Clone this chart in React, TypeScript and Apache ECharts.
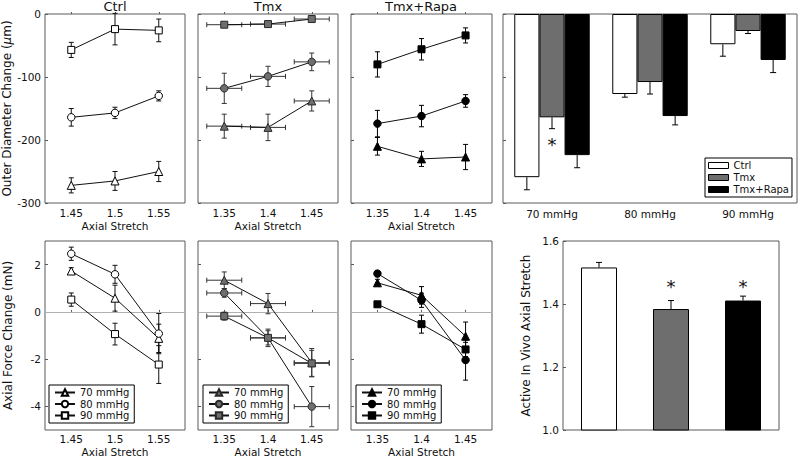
import React, { useEffect, useRef } from 'react';
import * as echarts from 'echarts';

const FONT = 'DejaVu Sans';

// x positions (axial stretch)
const ctrlStretch = [1.45, 1.5, 1.55];
const tmxStretch = [1.35, 1.4, 1.45];
const rapaStretch = [1.35, 1.4, 1.45];
const tmxStretchErr = [0.02, 0.02, 0.02];
const ctrlTicks = [1.45, 1.5, 1.55];
const treatTicks = [1.35, 1.4, 1.45];
const forceTicks = [-4, -2, 0, 2];
const odTicks = [-300, -200, -100, 0];
const stretchTicks = [1.0, 1.2, 1.4, 1.6];

// Outer diameter change (um)
const ctrlOD70 = [-272, -265, -250];
const ctrlOD70Err = [12, 15, 16];
const ctrlOD80 = [-164, -157, -130];
const ctrlOD80Err = [14, 9, 8];
const ctrlOD90 = [-57, -24, -26];
const ctrlOD90Err = [12, 25, 18];

const tmxOD70 = [-178, -180, -138];
const tmxOD70Err = [19, 21, 16];
const tmxOD80 = [-118, -99, -76];
const tmxOD80Err = [24, 16, 14];
const tmxOD90 = [-17, -16, -8];
const tmxOD90Err = [3, 5, 5];

const rapaOD70 = [-210, -230, -227];
const rapaOD70Err = [14, 12, 20];
const rapaOD80 = [-174, -162, -138];
const rapaOD80Err = [21, 17, 10];
const rapaOD90 = [-80, -56, -34];
const rapaOD90Err = [20, 17, 12];

// Bar chart: outer diameter change by pressure
const pressures = ['70 mmHg', '80 mmHg', '90 mmHg'];
const barCtrl = [-259, -127, -48];
const barCtrlErr = [20, 5, 19];
const barTmx = [-164, -108, -27];
const barTmxErr = [18, 19, 4];
const barRapa = [-224, -162, -73];
const barRapaErr = [20, 14, 20];

// Axial force change (mN)
const ctrlF70 = [1.73, 0.58, -1.12];
const ctrlF70Err = [0.14, 0.55, 0.6];
const ctrlF80 = [2.46, 1.59, -0.92];
const ctrlF80Err = [0.28, 0.38, 0.85];
const ctrlF90 = [0.52, -0.94, -2.23];
const ctrlF90Err = [0.28, 0.46, 0.8];

const tmxF70 = [1.34, 0.35, -2.15];
const tmxF70Err = [0.35, 0.43, 0.6];
const tmxF80 = [0.8, -1.1, -4.01];
const tmxF80Err = [0.18, 0.37, 0.85];
const tmxF90 = [-0.18, -1.1, -2.18];
const tmxF90Err = [0.17, 0.3, 0.55];

const rapaF70 = [1.23, 0.7, -1.03];
const rapaF70Err = [0.15, 0.37, 0.6];
const rapaF80 = [1.62, 0.49, -2.04];
const rapaF80Err = [0.12, 0.3, 0.85];
const rapaF90 = [0.32, -0.52, -1.59];
const rapaF90Err = [0.1, 0.38, 0.3];

// Active in vivo axial stretch
const groups = ['Ctrl', 'Tmx', 'Tmx+Rapa'];
const stretchVals = [1.516, 1.384, 1.411];
const stretchErr = [0.016, 0.027, 0.014];

// significance markers
const odStars = [[0, -203, 1]];
const stretchStars = [[1, 1.466], [2, 1.466]];

const CTRL = { fill: '#ffffff', stroke: '#000000', err: '#111111' };
const TMX = { fill: '#6e6e6e', stroke: '#2a2a2a', err: '#333333' };
const RAPA = { fill: '#000000', stroke: '#000000', err: '#000000' };

const FRAME = '#5a5a5a';
const CAP = 2.5;

function lineSeries(name: string, g: number, xs: number[], ys: number[], symbol: string, st: any) {
  return {
    type: 'line',
    name,
    xAxisIndex: g,
    yAxisIndex: g,
    data: xs.map((x, i) => [x, ys[i]]),
    symbol,
    symbolSize: symbol === 'rect' ? 7 : symbol === 'triangle' ? 8 : 7.5,
    itemStyle: { color: st.fill, borderColor: st.stroke, borderWidth: 1 },
    lineStyle: { color: '#111', width: 1 },
    emphasis: { disabled: true },
    silent: true,
    z: 3,
  };
}

function errSeries(g: number, xs: number[], ys: number[], ye: number[], xe: number[] | null, color: string, zeroLine = false) {
  const s: any = {
    type: 'custom',
    xAxisIndex: g,
    yAxisIndex: g,
    silent: true,
    z: 2,
    data: xs.map((x, i) => [x, ys[i], ye[i], xe ? xe[i] : 0]),
    encode: { x: 0, y: 1 },
    renderItem: (_p: any, api: any) => {
      const x = api.value(0);
      const y = api.value(1);
      const ey = api.value(2);
      const ex = api.value(3);
      const top = api.coord([x, y + ey]);
      const bot = api.coord([x, y - ey]);
      const style = { stroke: color, lineWidth: 1 };
      const ch: any[] = [
        { type: 'line', shape: { x1: top[0], y1: top[1], x2: bot[0], y2: bot[1] }, style },
        { type: 'line', shape: { x1: top[0] - CAP, y1: top[1], x2: top[0] + CAP, y2: top[1] }, style },
        { type: 'line', shape: { x1: bot[0] - CAP, y1: bot[1], x2: bot[0] + CAP, y2: bot[1] }, style },
      ];
      if (ex > 0) {
        const l = api.coord([x - ex, y]);
        const r = api.coord([x + ex, y]);
        ch.push(
          { type: 'line', shape: { x1: l[0], y1: l[1], x2: r[0], y2: r[1] }, style },
          { type: 'line', shape: { x1: l[0], y1: l[1] - CAP, x2: l[0], y2: l[1] + CAP }, style },
          { type: 'line', shape: { x1: r[0], y1: r[1] - CAP, x2: r[0], y2: r[1] + CAP }, style }
        );
      }
      return { type: 'group', children: ch };
    },
  };
  if (zeroLine) {
    s.markLine = {
      silent: true,
      symbol: ['none', 'none'],
      data: [{ yAxis: 0 }],
      lineStyle: { color: '#b0b0b0', width: 1, type: 'solid' },
      label: { show: false },
      z: 1,
    };
  }
  return s;
}

function barErrSeries(g: number, vals: number[], errs: number[], barIdx: number, nBars: number, gap: number) {
  return {
    type: 'custom',
    xAxisIndex: g,
    yAxisIndex: g,
    silent: true,
    z: 4,
    data: vals.map((v, i) => [i, v, errs[i], barIdx]),
    encode: { x: 0, y: 1 },
    renderItem: (_p: any, api: any) => {
      const cat = api.value(0);
      const v = api.value(1);
      const e = api.value(2);
      const bi = api.value(3);
      const band = api.size([1, 0])[0];
      const bw = (band * (1 - gap)) / nBars;
      const p0 = api.coord([cat, v]);
      const p1 = api.coord([cat, v < 0 ? v - e : v + e]);
      const x = p0[0] + (bi - (nBars - 1) / 2) * bw;
      const style = { stroke: '#000', lineWidth: 1 };
      return {
        type: 'group',
        children: [
          { type: 'line', shape: { x1: x, y1: p0[1], x2: x, y2: p1[1] }, style },
          { type: 'line', shape: { x1: x - 3, y1: p1[1], x2: x + 3, y2: p1[1] }, style },
        ],
      };
    },
  };
}

function starSeries(g: number, pts: number[][], nBars: number, gap: number) {
  return {
    type: 'custom',
    xAxisIndex: g,
    yAxisIndex: g,
    silent: true,
    z: 5,
    data: pts.map((p) => [p[0], p[1], p.length > 2 ? p[2] : -1]),
    encode: { x: 0, y: 1 },
    renderItem: (_p: any, api: any) => {
      const cat = api.value(0);
      const v = api.value(1);
      const bi = api.value(2);
      const band = api.size([1, 0])[0];
      const bw = (band * (1 - gap)) / nBars;
      const p = api.coord([cat, v]);
      const x = bi >= 0 ? p[0] + (bi - (nBars - 1) / 2) * bw : p[0];
      return {
        type: 'text',
        style: {
          text: '*',
          x,
          y: p[1] + 3,
          textAlign: 'center',
          textVerticalAlign: 'middle',
          fontSize: 18,
          fontFamily: FONT,
          fill: '#111',
        },
      };
    },
  };
}

const axisText = { fontFamily: FONT, fontSize: 10.5, color: '#111' };

function xValueAxis(g: number, min: number, max: number, ticks: number[], nameGap: number, margin: number) {
  return {
    type: 'value',
    gridIndex: g,
    min,
    max,
    name: 'Axial Stretch',
    nameLocation: 'middle',
    nameGap,
    nameTextStyle: axisText,
    axisLine: { show: false },
    axisTick: { show: true, inside: true, length: 2, customValues: ticks, lineStyle: { color: FRAME } },
    splitLine: { show: false },
    axisLabel: {
      ...axisText,
      margin,
      customValues: ticks,
      formatter: (v: number) => String(+v.toFixed(2)),
    },
  };
}

function yValueAxis(
  g: number, min: number, max: number, ticks: number[], showLabels: boolean,
  name = '', nameGap = 30, digits = -1
) {
  return {
    type: 'value',
    gridIndex: g,
    min,
    max,
    name,
    nameLocation: 'middle',
    nameGap,
    nameTextStyle: { fontFamily: FONT, fontSize: 12, color: '#111', rich: { i: { fontStyle: 'italic', fontFamily: FONT, fontSize: 12, color: '#111' } } },
    axisLine: { show: false },
    axisTick: { show: true, inside: true, length: 3, customValues: ticks, lineStyle: { color: FRAME } },
    splitLine: { show: false },
    axisLabel: {
      show: showLabels,
      ...axisText,
      margin: 4,
      customValues: ticks,
      formatter: (v: number) => (digits >= 0 ? v.toFixed(digits) : String(+v.toFixed(2))),
    },
  };
}

function buildOption(): any {
  const grids = [
    { left: 45, top: 14, width: 140, height: 189 },
    { left: 198, top: 14, width: 140, height: 189 },
    { left: 351, top: 14, width: 141, height: 189 },
    { left: 503, top: 14, width: 294, height: 189 },
    { left: 45, top: 241, width: 140, height: 189 },
    { left: 198, top: 241, width: 140, height: 189 },
    { left: 351, top: 241, width: 141, height: 189 },
    { left: 563, top: 241, width: 216, height: 189 },
  ].map((g) => ({ ...g, show: true, borderColor: FRAME, borderWidth: 1, backgroundColor: 'transparent', containLabel: false }));

  const barGap = 0.23;

  const xAxis: any[] = [
    xValueAxis(0, 1.42, 1.58, ctrlTicks, 17, 4),
    xValueAxis(1, 1.32, 1.48, treatTicks, 17, 4),
    xValueAxis(2, 1.32, 1.48, treatTicks, 17, 4),
    {
      type: 'category',
      gridIndex: 3,
      data: pressures,
      axisLine: { show: false },
      axisTick: { show: false },
      axisLabel: { ...axisText, margin: 5 },
    },
    xValueAxis(4, 1.42, 1.58, ctrlTicks, 16, 3),
    xValueAxis(5, 1.32, 1.48, treatTicks, 16, 3),
    xValueAxis(6, 1.32, 1.48, treatTicks, 16, 3),
    {
      type: 'category',
      gridIndex: 7,
      data: groups,
      axisLine: { show: false },
      axisTick: { show: false },
      axisLabel: { show: false },
    },
  ];

  const yAxis: any[] = [
    yValueAxis(0, -300, 0, odTicks, true, 'Outer Diameter Change ({i|μ}m)', 31),
    yValueAxis(1, -300, 0, odTicks, false),
    yValueAxis(2, -300, 0, odTicks, false),
    yValueAxis(3, -300, 0, odTicks, false),
    yValueAxis(4, -5, 3, forceTicks, true, 'Axial Force Change (mN)', 31),
    yValueAxis(5, -5, 3, forceTicks, false),
    yValueAxis(6, -5, 3, forceTicks, false),
    yValueAxis(7, 1.0, 1.6, stretchTicks, true, 'Active In Vivo Axial Stretch', 31, 1),
  ];

  const series: any[] = [
    // Top row: outer diameter
    errSeries(0, ctrlStretch, ctrlOD70, ctrlOD70Err, null, CTRL.err),
    errSeries(0, ctrlStretch, ctrlOD80, ctrlOD80Err, null, CTRL.err),
    errSeries(0, ctrlStretch, ctrlOD90, ctrlOD90Err, null, CTRL.err),
    lineSeries('Ctrl OD 70', 0, ctrlStretch, ctrlOD70, 'triangle', CTRL),
    lineSeries('Ctrl OD 80', 0, ctrlStretch, ctrlOD80, 'circle', CTRL),
    lineSeries('Ctrl OD 90', 0, ctrlStretch, ctrlOD90, 'rect', CTRL),

    errSeries(1, tmxStretch, tmxOD70, tmxOD70Err, tmxStretchErr, TMX.err),
    errSeries(1, tmxStretch, tmxOD80, tmxOD80Err, tmxStretchErr, TMX.err),
    errSeries(1, tmxStretch, tmxOD90, tmxOD90Err, tmxStretchErr, TMX.err),
    lineSeries('Tmx OD 70', 1, tmxStretch, tmxOD70, 'triangle', TMX),
    lineSeries('Tmx OD 80', 1, tmxStretch, tmxOD80, 'circle', TMX),
    lineSeries('Tmx OD 90', 1, tmxStretch, tmxOD90, 'rect', TMX),

    errSeries(2, rapaStretch, rapaOD70, rapaOD70Err, null, RAPA.err),
    errSeries(2, rapaStretch, rapaOD80, rapaOD80Err, null, RAPA.err),
    errSeries(2, rapaStretch, rapaOD90, rapaOD90Err, null, RAPA.err),
    lineSeries('Rapa OD 70', 2, rapaStretch, rapaOD70, 'triangle', RAPA),
    lineSeries('Rapa OD 80', 2, rapaStretch, rapaOD80, 'circle', RAPA),
    lineSeries('Rapa OD 90', 2, rapaStretch, rapaOD90, 'rect', RAPA),

    // Top right bar chart
    {
      type: 'bar', name: 'Ctrl', xAxisIndex: 3, yAxisIndex: 3, data: barCtrl,
      barGap: '0%', barCategoryGap: '23%', silent: true, emphasis: { disabled: true },
      itemStyle: { color: '#ffffff', borderColor: '#000', borderWidth: 1 },
    },
    {
      type: 'bar', name: 'Tmx', xAxisIndex: 3, yAxisIndex: 3, data: barTmx,
      barGap: '0%', barCategoryGap: '23%', silent: true, emphasis: { disabled: true },
      itemStyle: { color: '#6e6e6e', borderColor: '#000', borderWidth: 1 },
    },
    {
      type: 'bar', name: 'Tmx+Rapa', xAxisIndex: 3, yAxisIndex: 3, data: barRapa,
      barGap: '0%', barCategoryGap: '23%', silent: true, emphasis: { disabled: true },
      itemStyle: { color: '#000000', borderColor: '#000', borderWidth: 1 },
    },
    barErrSeries(3, barCtrl, barCtrlErr, 0, 3, barGap),
    barErrSeries(3, barTmx, barTmxErr, 1, 3, barGap),
    barErrSeries(3, barRapa, barRapaErr, 2, 3, barGap),
    starSeries(3, odStars, 3, barGap),

    // Bottom row: axial force
    errSeries(4, ctrlStretch, ctrlF70, ctrlF70Err, null, CTRL.err, true),
    errSeries(4, ctrlStretch, ctrlF80, ctrlF80Err, null, CTRL.err),
    errSeries(4, ctrlStretch, ctrlF90, ctrlF90Err, null, CTRL.err),
    lineSeries('Ctrl 70 mmHg', 4, ctrlStretch, ctrlF70, 'triangle', CTRL),
    lineSeries('Ctrl 80 mmHg', 4, ctrlStretch, ctrlF80, 'circle', CTRL),
    lineSeries('Ctrl 90 mmHg', 4, ctrlStretch, ctrlF90, 'rect', CTRL),

    errSeries(5, tmxStretch, tmxF70, tmxF70Err, tmxStretchErr, TMX.err, true),
    errSeries(5, tmxStretch, tmxF80, tmxF80Err, tmxStretchErr, TMX.err),
    errSeries(5, tmxStretch, tmxF90, tmxF90Err, tmxStretchErr, TMX.err),
    lineSeries('Tmx 70 mmHg', 5, tmxStretch, tmxF70, 'triangle', TMX),
    lineSeries('Tmx 80 mmHg', 5, tmxStretch, tmxF80, 'circle', TMX),
    lineSeries('Tmx 90 mmHg', 5, tmxStretch, tmxF90, 'rect', TMX),

    errSeries(6, rapaStretch, rapaF70, rapaF70Err, null, RAPA.err, true),
    errSeries(6, rapaStretch, rapaF80, rapaF80Err, null, RAPA.err),
    errSeries(6, rapaStretch, rapaF90, rapaF90Err, null, RAPA.err),
    lineSeries('Rapa 70 mmHg', 6, rapaStretch, rapaF70, 'triangle', RAPA),
    lineSeries('Rapa 80 mmHg', 6, rapaStretch, rapaF80, 'circle', RAPA),
    lineSeries('Rapa 90 mmHg', 6, rapaStretch, rapaF90, 'rect', RAPA),

    // Bottom right: active in vivo axial stretch
    {
      type: 'bar', name: 'Stretch', xAxisIndex: 7, yAxisIndex: 7, barWidth: '50%', silent: true,
      emphasis: { disabled: true },
      data: stretchVals.map((v, i) => ({
        value: v,
        itemStyle: { color: ['#ffffff', '#6e6e6e', '#000000'][i], borderColor: '#000', borderWidth: 1 },
      })),
    },
    barErrSeries(7, stretchVals, stretchErr, 0, 1, 0.5),
    starSeries(7, stretchStars, 1, 0.5),
  ];

  const legendBase = {
    orient: 'vertical',
    itemWidth: 20,
    itemHeight: 8,
    itemGap: 0.5,
    padding: [2, 5],
    borderColor: '#000',
    borderWidth: 1,
    backgroundColor: '#fff',
    selectedMode: false,
    textStyle: { fontSize: 10, fontFamily: FONT, color: '#111', lineHeight: 11 },
    formatter: (n: string) => n.replace(/^\S+\s/, ''),
  };

  const legend = [
    { ...legendBase, data: ['Ctrl 70 mmHg', 'Ctrl 80 mmHg', 'Ctrl 90 mmHg'], left: 49, top: 385 },
    { ...legendBase, data: ['Tmx 70 mmHg', 'Tmx 80 mmHg', 'Tmx 90 mmHg'], left: 203, top: 385 },
    { ...legendBase, data: ['Rapa 70 mmHg', 'Rapa 80 mmHg', 'Rapa 90 mmHg'], left: 356, top: 385 },
    {
      orient: 'vertical',
      data: ['Ctrl', 'Tmx', 'Tmx+Rapa'],
      left: 705,
      top: 158,
      icon: 'rect',
      itemWidth: 20,
      itemHeight: 6,
      itemGap: 1,
      padding: [2, 3],
      borderColor: '#000',
      borderWidth: 1,
      backgroundColor: '#fff',
      selectedMode: false,
      itemStyle: { borderColor: '#000', borderWidth: 1 },
      textStyle: { fontSize: 10, fontFamily: FONT, color: '#111', lineHeight: 11 },
    },
  ];

  const titleStyle = { fontSize: 13, fontWeight: 'normal', fontFamily: FONT, color: '#111' };
  const title = [
    { text: 'Ctrl', left: 115, top: 0, textAlign: 'center', padding: 0, textStyle: titleStyle },
    { text: 'Tmx', left: 268, top: 0, textAlign: 'center', padding: 0, textStyle: titleStyle },
    { text: 'Tmx+Rapa', left: 421, top: 0, textAlign: 'center', padding: 0, textStyle: titleStyle },
  ];

  return {
    animation: false,
    backgroundColor: '#ffffff',
    textStyle: { fontFamily: FONT },
    title,
    grid: grids,
    xAxis,
    yAxis,
    legend,
    series,
  };
}

export default function App() {
  const ref = useRef<HTMLDivElement>(null);
  useEffect(() => {
    if (!ref.current) return;
    const chart = echarts.init(ref.current, null, { renderer: 'svg' });
    chart.setOption(buildOption());
    return () => chart.dispose();
  }, []);
  return (
    <div
      ref={ref}
      style={{ position: 'absolute', left: 0, top: 0, width: 800, height: 460, background: '#fff' }}
    />
  );
}
